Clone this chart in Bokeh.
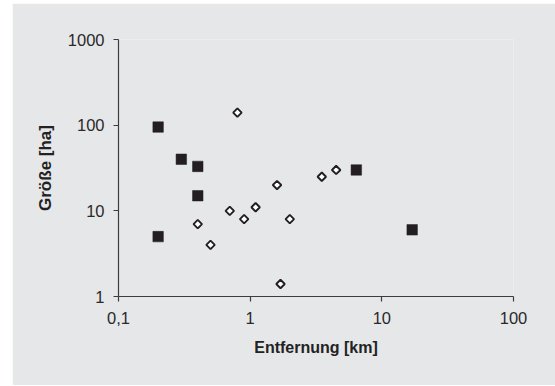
import numpy as np
from bokeh.plotting import figure
from bokeh.layouts import column, row
from bokeh.models import Spacer, FixedTicker, CustomJSTickFormatter, ColumnDataSource
from bokeh.embed import file_html
from bokeh.resources import INLINE

# Data
filled_x = [0.2, 0.3, 0.4, 0.4, 0.2, 6.4, 17]
filled_y = [95, 40, 33, 15, 5, 30, 6]
open_x = [0.8, 0.4, 0.5, 0.7, 0.9, 1.1, 1.6, 1.7, 2.0, 3.5, 4.5]
open_y = [140, 7, 4, 10, 8, 11, 20, 1.4, 8, 25, 30]
x_ticks = [0.1, 1, 10, 100]
y_ticks = [1, 10, 100, 1000]
x_title = "Entfernung [km]"
y_title = "Größe [ha]"

BG = "#e6e7e9"
AX = "#3c3c3c"
FONT = "Liberation Sans"

p = figure(width=543, height=382, x_axis_type="log", y_axis_type="log",
           x_range=(0.1, 100), y_range=(1, 1000),
           output_backend="svg", toolbar_location=None,
           min_border_left=106, min_border_right=42, min_border_top=36, min_border_bottom=89)
p.background_fill_color = BG
p.border_fill_color = BG
p.outline_line_color = None
p.grid.visible = False

for ax in (p.xaxis[0], p.yaxis[0]):
    ax.axis_line_color = AX
    ax.axis_line_width = 1.2
    ax.major_tick_line_color = AX
    ax.major_tick_line_width = 1.2
    ax.major_tick_out = 5
    ax.major_tick_in = 0
    ax.minor_tick_line_color = None
    ax.major_label_text_font = FONT
    ax.major_label_text_font_size = "16.5px"
    ax.major_label_text_color = "#2a2a2a"
    ax.axis_label_text_font = FONT
    ax.axis_label_text_font_style = "bold"
    ax.axis_label_text_color = "#222222"
    ax.formatter = CustomJSTickFormatter(code="return String(tick).replace('.', ',');")

p.xaxis[0].ticker = FixedTicker(ticks=x_ticks, minor_ticks=[])
p.yaxis[0].ticker = FixedTicker(ticks=y_ticks, minor_ticks=[])
p.xaxis[0].axis_label = x_title
p.yaxis[0].axis_label = y_title
p.xaxis[0].axis_label_text_font_size = "16px"
p.yaxis[0].axis_label_text_font_size = "17px"
p.xaxis[0].major_label_standoff = 10
p.yaxis[0].major_label_standoff = 9
p.xaxis[0].axis_label_standoff = 12
p.yaxis[0].axis_label_standoff = 10

src_f = ColumnDataSource(dict(x=filled_x, y=filled_y))
src_o = ColumnDataSource(dict(x=open_x, y=open_y))
p.scatter("x", "y", source=src_f, marker="square", size=10.5,
          fill_color="#231f20", line_color="#231f20", line_width=0.5)
p.scatter("x", "y", source=src_o, marker="square", size=6, angle=np.pi / 4,
          fill_color="white", line_color="#231f20", line_width=1.9)

layout = column(Spacer(height=3), row(Spacer(width=12), p))
open("out.html", "w").write(file_html(layout, INLINE))
